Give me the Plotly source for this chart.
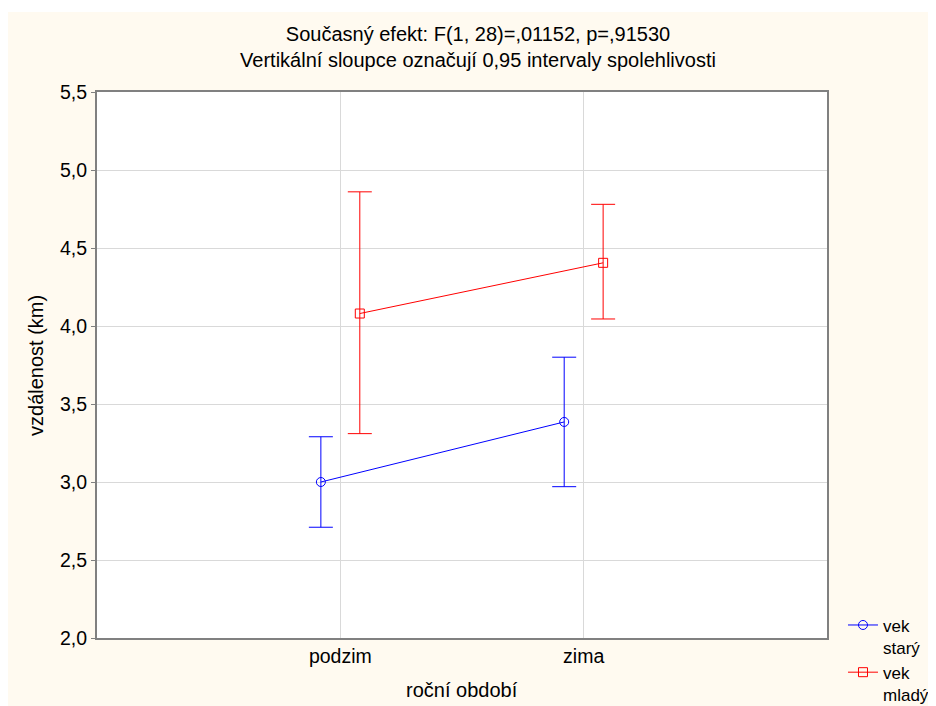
import plotly.graph_objects as go

categories = ["podzim", "zima"]
series_names = ["vek<br>starý", "vek<br>mladý"]
old_mean = [3.00, 3.385]
old_low = [2.71, 2.97]
old_high = [3.29, 3.80]
young_mean = [4.08, 4.405]
young_low = [3.31, 4.045]
young_high = [4.86, 4.78]
y_ticks = [2.0, 2.5, 3.0, 3.5, 4.0, 4.5, 5.0, 5.5]

offset = 0.08
cat_pos = list(range(len(categories)))

fig = go.Figure()

def add_series(name, means, lows, highs, color, symbol, shift):
    xs = [p + shift for p in cat_pos]
    fig.add_trace(go.Scatter(
        x=xs, y=means, name=name, mode="lines+markers",
        line=dict(color=color, width=1),
        marker=dict(symbol=symbol, size=9, color=color,
                    line=dict(color=color, width=1)),
        error_y=dict(type="data", symmetric=False,
                     array=[h - m for h, m in zip(highs, means)],
                     arrayminus=[m - l for m, l in zip(means, lows)],
                     color=color, thickness=1, width=12),
    ))

add_series(series_names[0], old_mean, old_low, old_high, "#0000ff", "circle-open", -offset)
add_series(series_names[1], young_mean, young_low, young_high, "#ff0000", "square-open", offset)

cream = "#fffaf0"
fig.update_layout(
    width=936, height=706,
    margin=dict(l=89, r=117, t=84, b=76, autoexpand=False),
    paper_bgcolor=cream, plot_bgcolor="white",
    separators=", ",
    font=dict(family="Liberation Sans, Arial, sans-serif", size=19.5, color="black"),
    title=dict(text="Současný efekt: F(1, 28)=,01152, p=,91530<br>Vertikální sloupce označují 0,95 intervaly spolehlivosti",
               x=(478 - 8) / 936, xref="container", xanchor="center",
               y=1 - 32.5 / 706, yref="container", yanchor="middle",
               font=dict(size=20)),
    xaxis=dict(range=[-1, 2], tickvals=cat_pos, ticktext=categories,
               showgrid=True, gridcolor="#d9d9d9", gridwidth=1,
               showline=True, linecolor="#808080", linewidth=2, mirror=True,
               ticks="", zeroline=False, automargin=False),
    yaxis=dict(range=[2.0, 5.5], tickvals=y_ticks, tickformat=".1f",
               showgrid=True, gridcolor="#d9d9d9", gridwidth=1,
               showline=True, linecolor="#808080", linewidth=2, mirror=True,
               ticks="outside", ticklen=4, tickcolor="#808080", zeroline=False,
               automargin=False),
    legend=dict(x=1.0219, y=0.056, xanchor="left", yanchor="top",
                bgcolor="rgba(0,0,0,0)", font=dict(size=17),
                tracegroupgap=0, valign="top"),
    showlegend=True,
    annotations=[
        dict(text="roční období", xref="paper", yref="paper", x=0.5, y=-0.0952,
             xanchor="center", yanchor="middle", showarrow=False,
             font=dict(size=20)),
        dict(text="vzdálenost (km)", xref="paper", yref="paper", x=-0.0836, y=0.5,
             xanchor="center", yanchor="middle", showarrow=False, textangle=-90,
             font=dict(size=20)),
    ],
    shapes=[
        dict(type="rect", xref="paper", yref="paper", x0=-0.3, x1=1.3,
             y0=1 + 80 / 546, y1=1.3, fillcolor="white", line=dict(width=0), layer="below"),
    ],
)

fig.write_html("out.html")
